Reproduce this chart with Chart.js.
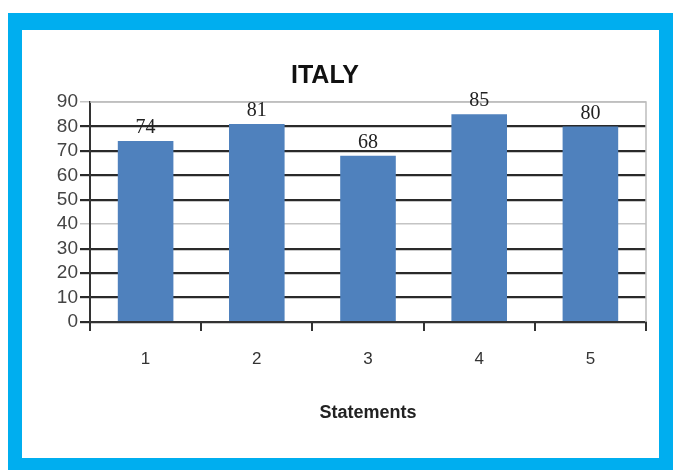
<!DOCTYPE html>
<html>
<head>
<meta charset="utf-8">
<title>ITALY</title>
<script src="https://cdn.jsdelivr.net/npm/chart.js@4.4.1/dist/chart.umd.min.js"></script>
<style>
    html, body { margin: 0; padding: 0; background: #fff; }
    .frame {
        position: absolute;
        left: 8px;
        top: 13px;
        width: 637px;
        height: 428px;
        border-style: solid;
        border-color: #00AEEF;
        border-width: 17px 14px 12px 14px;
        background: #fff;
    }
    .frame canvas { display: block; }
</style>
</head>
<body>
<div class="frame">
    <canvas id="italyChart" width="637" height="428"></canvas>
</div>
<script>
// Chart data
const chartTitle = 'ITALY';
const categories = ['1', '2', '3', '4', '5'];
const scores = [74, 81, 68, 85, 80];
const yTicks = [0, 10, 20, 30, 40, 50, 60, 70, 80, 90];
const xAxisTitle = 'Statements';

class ItalyChart {
    constructor() {
        this.barColor = '#4F81BD';
        this.init();
    }

    init() {
        const ctx = document.getElementById('italyChart').getContext('2d');
        this.chart = new Chart(ctx, {
            type: 'bar',
            data: {
                labels: categories,
                datasets: [{
                    label: chartTitle,
                    data: scores,
                    backgroundColor: this.barColor,
                    borderWidth: 0,
                    barPercentage: 1,
                    categoryPercentage: 0.5
                }]
            },
            options: this.buildOptions(),
            plugins: [this.plotBorderPlugin(), this.valueLabelPlugin(), this.titlePlugin()]
        });
    }

    buildOptions() {
        return {
            responsive: false,
            animation: false,
            layout: { padding: { left: 0, right: 13, top: 72, bottom: 0 } },
            plugins: {
                legend: { display: false },
                title: { display: false },
                tooltip: { enabled: false }
            },
            scales: {
                x: {
                    afterFit: (scale) => { scale.height = 136; },
                    border: { display: true, color: '#333', width: 2 },
                    grid: {
                        offset: true,
                        drawOnChartArea: false,
                        drawTicks: true,
                        tickLength: 9,
                        color: '#333',
                        lineWidth: 2
                    },
                    ticks: {
                        padding: 18,
                        color: '#333',
                        font: { family: 'Liberation Sans', size: 17 }
                    },
                    title: {
                        display: true,
                        text: xAxisTitle,
                        color: '#222',
                        font: { family: 'Liberation Sans', size: 18, weight: 'bold' },
                        padding: { top: 0, bottom: 34 }
                    }
                },
                y: {
                    min: 0,
                    max: 90,
                    afterFit: (scale) => { scale.width = 68; },
                    afterBuildTicks: (scale) => { scale.ticks = yTicks.map(v => ({ value: v })); },
                    border: { display: true, color: '#333', width: 2 },
                    grid: {
                        drawTicks: true,
                        tickLength: 10,
                        // faint lines at 40 and 90 as in the source picture
                        color: (c) => (c.tick && (c.tick.value === 40 || c.tick.value === 90)) ? '#c4c4c4' : '#2a2a2a',
                        lineWidth: (c) => (c.tick && (c.tick.value === 40 || c.tick.value === 90)) ? 1.5 : 2.2
                    },
                    ticks: {
                        autoSkip: false,
                        padding: 2,
                        color: '#444',
                        font: { family: 'Liberation Sans', size: 19 }
                    }
                }
            }
        };
    }

    // light grey frame around the plot area
    plotBorderPlugin() {
        return {
            id: 'plotBorder',
            beforeDatasetsDraw(chart) {
                const { ctx, chartArea } = chart;
                ctx.save();
                ctx.strokeStyle = '#bdbdbd';
                ctx.lineWidth = 1.5;
                ctx.beginPath();
                ctx.moveTo(chartArea.left, chartArea.top);
                ctx.lineTo(chartArea.right, chartArea.top);
                ctx.lineTo(chartArea.right, chartArea.bottom);
                ctx.stroke();
                ctx.restore();
            }
        };
    }

    // value labels above each bar
    valueLabelPlugin() {
        return {
            id: 'valueLabels',
            afterDatasetsDraw(chart) {
                const { ctx } = chart;
                const meta = chart.getDatasetMeta(0);
                ctx.save();
                ctx.fillStyle = '#222';
                ctx.font = '20px "Liberation Serif"';
                ctx.textAlign = 'center';
                ctx.textBaseline = 'bottom';
                meta.data.forEach((bar, i) => {
                    const { x, y } = bar.getProps(['x', 'y'], true);
                    ctx.fillText(String(scores[i]), x, y - 3);
                });
                ctx.restore();
            }
        };
    }

    titlePlugin() {
        return {
            id: 'chartTitle',
            afterDraw(chart) {
                const { ctx, chartArea } = chart;
                ctx.save();
                ctx.fillStyle = '#111';
                ctx.font = 'bold 25px "Liberation Sans"';
                ctx.textAlign = 'center';
                ctx.textBaseline = 'middle';
                ctx.fillText(chartTitle, (chartArea.left + chartArea.right) / 2 - 43, chartArea.top - 26);
                ctx.restore();
            }
        };
    }
}

new ItalyChart();
</script>
</body>
</html>
